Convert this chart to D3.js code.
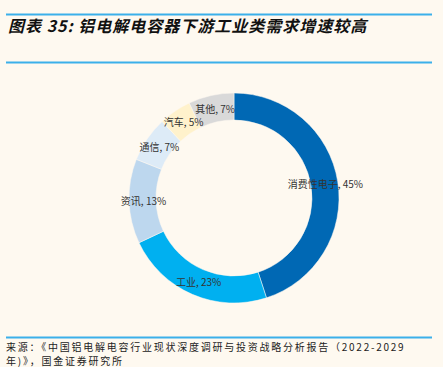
<!DOCTYPE html>
<html><head><meta charset="utf-8">
<script src="https://cdn.jsdelivr.net/npm/d3@7/dist/d3.min.js"></script>
<style>
html,body{margin:0;padding:0;background:#fef9f0;}
svg{display:block;}
</style></head>
<body><svg id="c" width="443" height="367"></svg>
<script>
const categories = ["消费性电子","工业","资讯","通信","汽车","其他"];
const values = [45,23,13,7,5,7];
const colors = ["#0068b4","#00b0f0","#bdd7ee","#ddebf7","#fff2cc","#d9d9d9"];
const title = "图表 35: 铝电解电容器下游工业类需求增速较高";
const sourceLines = ["来源：《中国铝电解电容行业现状深度调研与投资战略分析报告（2022-2029","年)》，国金证券研究所"];

const svg = d3.select("#c");
svg.append("rect").attr("width",443).attr("height",367).attr("fill","#fef9f0");
const lineColor = "#3bb0ea";
[14.5,62.5,337.5].forEach(y=>{
  svg.append("line").attr("x1",6).attr("x2",432).attr("y1",y).attr("y2",y)
    .attr("stroke",lineColor).attr("stroke-width",2);
});
svg.append("text").attr("x",8).attr("y",32).text(title)
  .attr("font-family","'Noto Sans CJK SC', sans-serif").attr("font-size",16)
  .attr("font-weight","bold").attr("font-style","italic").attr("fill","#111")
  .attr("letter-spacing",1.0);

const cx=234, cy=198, rOut=105, rIn=78;
const pie = d3.pie().sort(null).value(d=>d.v);
const data = pie(categories.map((c,i)=>({c,v:values[i],col:colors[i]})));
const arc = d3.arc().innerRadius(rIn).outerRadius(rOut);
const g = svg.append("g").attr("transform",`translate(${cx},${cy})`);
g.selectAll("path").data(data).join("path").attr("d",arc)
  .attr("fill",d=>d.data.col).attr("stroke","#fef9f0").attr("stroke-width",0.5);
const labelArc = d3.arc().innerRadius((rIn+rOut)/2).outerRadius((rIn+rOut)/2);
g.selectAll("text").data(data).join("text")
  .attr("transform",d=>{const [x,y]=labelArc.centroid(d);return `translate(${x+1},${y+4})`;})
  .attr("text-anchor","middle").attr("font-size",10)
  .attr("font-family","'Noto Sans CJK SC', sans-serif").attr("fill","#333")
  .text(d=>`${d.data.c}, ${d.data.v}%`);

sourceLines.forEach((t,i)=>{
  svg.append("text").attr("x",6).attr("y",351+i*14).text(t)
    .attr("font-family","'Noto Sans CJK SC', sans-serif").attr("font-size",10)
    .attr("fill","#222").attr("letter-spacing",1.75);
});
</script></body></html>
